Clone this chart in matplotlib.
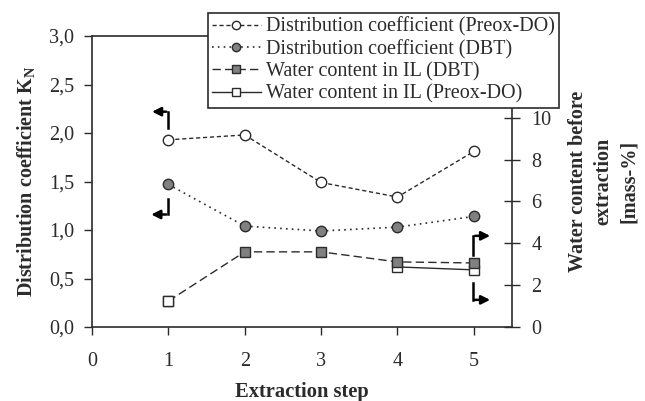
import numpy as np
import matplotlib
matplotlib.use("Agg")
import matplotlib.pyplot as plt

plt.rcParams['font.family'] = ['Liberation Serif', 'DejaVu Serif']
plt.rcParams['mathtext.fontset'] = 'custom'
plt.rcParams['mathtext.rm'] = 'Liberation Serif'
plt.rcParams['mathtext.bf'] = 'Liberation Serif:bold'

steps = [1, 2, 3, 4, 5]
k_preox = [1.93, 1.98, 1.49, 1.34, 1.81]
k_dbt = [1.47, 1.04, 0.99, 1.03, 1.14]
water_dbt = [1.24, 3.59, 3.59, 3.11, 3.06]
water_preox = [1.24, np.nan, np.nan, 2.87, 2.73]

ink = '#2b2b2b'

fig = plt.figure(figsize=(6.45, 4.01), dpi=100)
ax = fig.add_axes([0.1426, 0.1845, 0.6512, 0.7257])
ax2 = ax.twinx()

# left axis: distribution coefficients
l1, = ax.plot(steps, k_preox, linestyle=(0, (3, 2)), color=ink, lw=1.0,
              marker='o', ms=7.5, mfc='white', mec=ink, mew=1.0,
              label='Distribution coefficient (Preox-DO)')
l2, = ax.plot(steps, k_dbt, linestyle=(0, (1, 2.5)), color=ink, lw=1.2,
              marker='o', ms=7.5, mfc='#808080', mec=ink, mew=1.0,
              label='Distribution coefficient (DBT)')

# right axis: water content
l4, = ax2.plot(steps, water_preox, linestyle='-', color=ink, lw=1.0,
               marker='s', ms=7.5, mfc='white', mec=ink, mew=1.0,
               label='Water content in IL (Preox-DO)')
l3, = ax2.plot(steps, water_dbt, linestyle=(0, (6, 3)), color=ink, lw=1.0,
               marker='s', ms=7.5, mfc='#808080', mec=ink, mew=1.0,
               markevery=[1, 2, 3, 4], label='Water content in IL (DBT)')
ax2.plot(steps[:1], water_preox[:1], linestyle='none', marker='s', ms=7.5,
         mfc='white', mec=ink, mew=1.0)

ax.set_xlim(0, 5.5)
ax.set_ylim(0, 3.0)
ax2.set_ylim(0, 13.9)
ax.set_xticks([0, 1, 2, 3, 4, 5])
ax.set_yticks(np.arange(0, 3.01, 0.5))
ax.set_yticklabels([f'{v:.1f}'.replace('.', ',') for v in np.arange(0, 3.01, 0.5)])
ax2.set_yticks([0, 2, 4, 6, 8, 10])

for s in ['left', 'bottom', 'top']:
    ax.spines[s].set_color(ink)
    ax.spines[s].set_linewidth(1.2)
ax.spines['right'].set_visible(False)
for s in ['left', 'bottom', 'top']:
    ax2.spines[s].set_visible(False)
ax2.spines['right'].set_color(ink)
ax2.spines['right'].set_linewidth(1.2)

ax.tick_params(axis='both', direction='out', length=6, width=1, color=ink,
               labelsize=14.5, labelcolor=ink, pad=7)
ax.tick_params(axis='x', pad=12)
ax2.tick_params(axis='y', direction='inout', length=12, width=1, color=ink,
                labelsize=14.5, labelcolor=ink, pad=8)

ax.set_xlabel('Extraction step', fontsize=14.8, fontweight='bold', color=ink,
              labelpad=8)
ax.set_ylabel(r'Distribution coefficient K$_\mathbf{N}$', fontsize=14.5,
              fontweight='bold', color=ink, labelpad=8)
ax2.set_ylabel('Water content before\nextraction\n[mass-%]', fontsize=14.5,
               fontweight='bold', color=ink, labelpad=12, linespacing=1.35)

# bent arrows pointing to the relevant axis
arrow_kw = dict(arrowstyle='-|>', color='black', lw=1.8, mutation_scale=13)
ax.plot([1.0, 1.0], [2.05, 2.22], color='black', lw=1.8)
ax.annotate('', xy=(0.75, 2.22), xytext=(1.01, 2.22), arrowprops=arrow_kw)
ax.plot([1.0, 1.0], [1.32, 1.16], color='black', lw=1.8)
ax.annotate('', xy=(0.74, 1.16), xytext=(1.01, 1.16), arrowprops=arrow_kw)
ax.plot([4.99, 4.99], [0.74, 0.94], color='black', lw=1.8)
ax.annotate('', xy=(5.25, 0.94), xytext=(4.98, 0.94), arrowprops=arrow_kw)
ax.plot([4.99, 4.99], [0.45, 0.28], color='black', lw=1.8)
ax.annotate('', xy=(5.25, 0.28), xytext=(4.98, 0.28), arrowprops=arrow_kw)

leg = ax2.legend(handles=[l1, l2, l3, l4], loc='upper right',
                 bbox_to_anchor=(0.866, 0.967), bbox_transform=fig.transFigure,
                 fontsize=14.5, frameon=True, fancybox=False, framealpha=1,
                 edgecolor=ink, handlelength=2.4, handletextpad=0.25,
                 borderpad=0.2, labelspacing=0.15, borderaxespad=0,
                 markerscale=0.8)
leg.get_frame().set_linewidth(1.2)
for t in leg.get_texts():
    t.set_color(ink)

fig.savefig('out.png', dpi=100)
